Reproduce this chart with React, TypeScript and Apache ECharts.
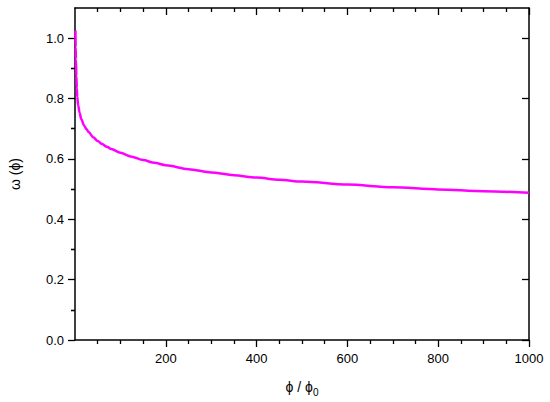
import React, { useEffect, useRef } from "react";
import * as echarts from "echarts";

const phi = [1, 1.5, 2, 3, 4, 5, 7, 10, 14, 20, 25, 30, 40, 50, 60, 70, 80, 100, 125, 150, 175, 200, 250, 300, 350, 400, 450, 500, 600, 700, 800, 900, 1000];
const omega = [1.025, 0.97, 0.93, 0.875, 0.835, 0.805, 0.778, 0.753, 0.731, 0.711, 0.699, 0.689, 0.672, 0.659, 0.649, 0.64, 0.633, 0.62, 0.607, 0.596, 0.587, 0.579, 0.566, 0.555, 0.546, 0.538, 0.531, 0.525, 0.515, 0.506, 0.499, 0.493, 0.488];

const xMajorTicks = [200, 400, 600, 800, 1000];
const yMajorTicks = [0, 0.2, 0.4, 0.6, 0.8, 1.0];
const yMinorTicks = [0.1, 0.3, 0.5, 0.7, 0.9];

const FONT = "'Liberation Sans', Arial, sans-serif";

export default function App() {
  const ref = useRef<HTMLDivElement>(null);
  useEffect(() => {
    if (!ref.current) return;
    const chart = echarts.init(ref.current, undefined, { renderer: "svg" });
    const lineStyle = { color: "#000", width: 1.5 };
    const tickStyle = { color: "#000", width: 1.3 };
    const data = phi.map((p, i) => [p, omega[i]]);
    const xBase = {
      type: "value" as const,
      min: 0,
      max: 1000,
      interval: 200,
      splitLine: { show: false },
      axisLine: { show: true, onZero: false, lineStyle },
      minorTick: { show: true, splitNumber: 4, length: 4, lineStyle: tickStyle },
    };
    const yBase = {
      type: "value" as const,
      min: 0,
      max: 1.1,
      splitLine: { show: false },
    };
    chart.setOption({
      animation: false,
      grid: { left: 73, right: 21, top: 8, bottom: 59, containLabel: false },
      xAxis: [
        {
          ...xBase,
          position: "bottom",
          name: "ϕ / ϕ{sub|0}",
          nameLocation: "middle",
          nameGap: 37,
          nameTextStyle: {
            color: "#000",
            fontFamily: FONT,
            fontSize: 14,
            rich: {
              sub: { fontSize: 10, fontFamily: FONT, color: "#000", padding: [10, 0, 0, 0] },
            },
          },
          axisTick: { show: true, inside: false, length: 7, customValues: xMajorTicks, lineStyle: tickStyle },
          axisLabel: {
            show: true,
            customValues: xMajorTicks,
            margin: 12,
            color: "#000",
            fontFamily: FONT,
            fontSize: 13,
            formatter: (v: number) => String(v),
          },
        },
        {
          ...xBase,
          position: "top",
          axisTick: { show: true, inside: true, length: 7, customValues: xMajorTicks, lineStyle: tickStyle },
          axisLabel: { show: false },
        },
      ],
      yAxis: [
        {
          ...yBase,
          position: "left",
          name: "ω (ϕ)",
          nameLocation: "middle",
          nameGap: 53,
          nameTextStyle: { color: "#000", fontFamily: FONT, fontSize: 14 },
          axisLine: { show: true, onZero: false, lineStyle },
          axisTick: { show: true, inside: false, length: 7, customValues: yMajorTicks, lineStyle: tickStyle },
          axisLabel: {
            show: true,
            customValues: yMajorTicks,
            margin: 11,
            color: "#000",
            fontFamily: FONT,
            fontSize: 13,
            formatter: (v: number) => v.toFixed(1),
          },
        },
        {
          ...yBase,
          position: "left",
          axisLine: { show: false },
          axisTick: { show: true, inside: false, length: 4, customValues: yMinorTicks, lineStyle: tickStyle },
          axisLabel: { show: false },
        },
        {
          ...yBase,
          position: "right",
          axisLine: { show: true, onZero: false, lineStyle },
          axisTick: { show: true, inside: true, length: 7, customValues: yMajorTicks, lineStyle: tickStyle },
          axisLabel: { show: false },
        },
        {
          ...yBase,
          position: "right",
          axisLine: { show: false },
          axisTick: { show: true, inside: true, length: 4, customValues: yMinorTicks, lineStyle: tickStyle },
          axisLabel: { show: false },
        },
      ],
      series: [
        {
          type: "line",
          xAxisIndex: 0,
          yAxisIndex: 0,
          data,
          smooth: 0.3,
          smoothMonotone: "x",
          showSymbol: false,
          symbol: "none",
          lineStyle: { color: "#ff00ff", width: 2.5 },
          clip: true,
        },
      ],
    });
    return () => chart.dispose();
  }, []);
  return (
    <div
      ref={ref}
      style={{ position: "fixed", left: 0, top: 0, width: 550, height: 402, background: "#fff" }}
    />
  );
}
